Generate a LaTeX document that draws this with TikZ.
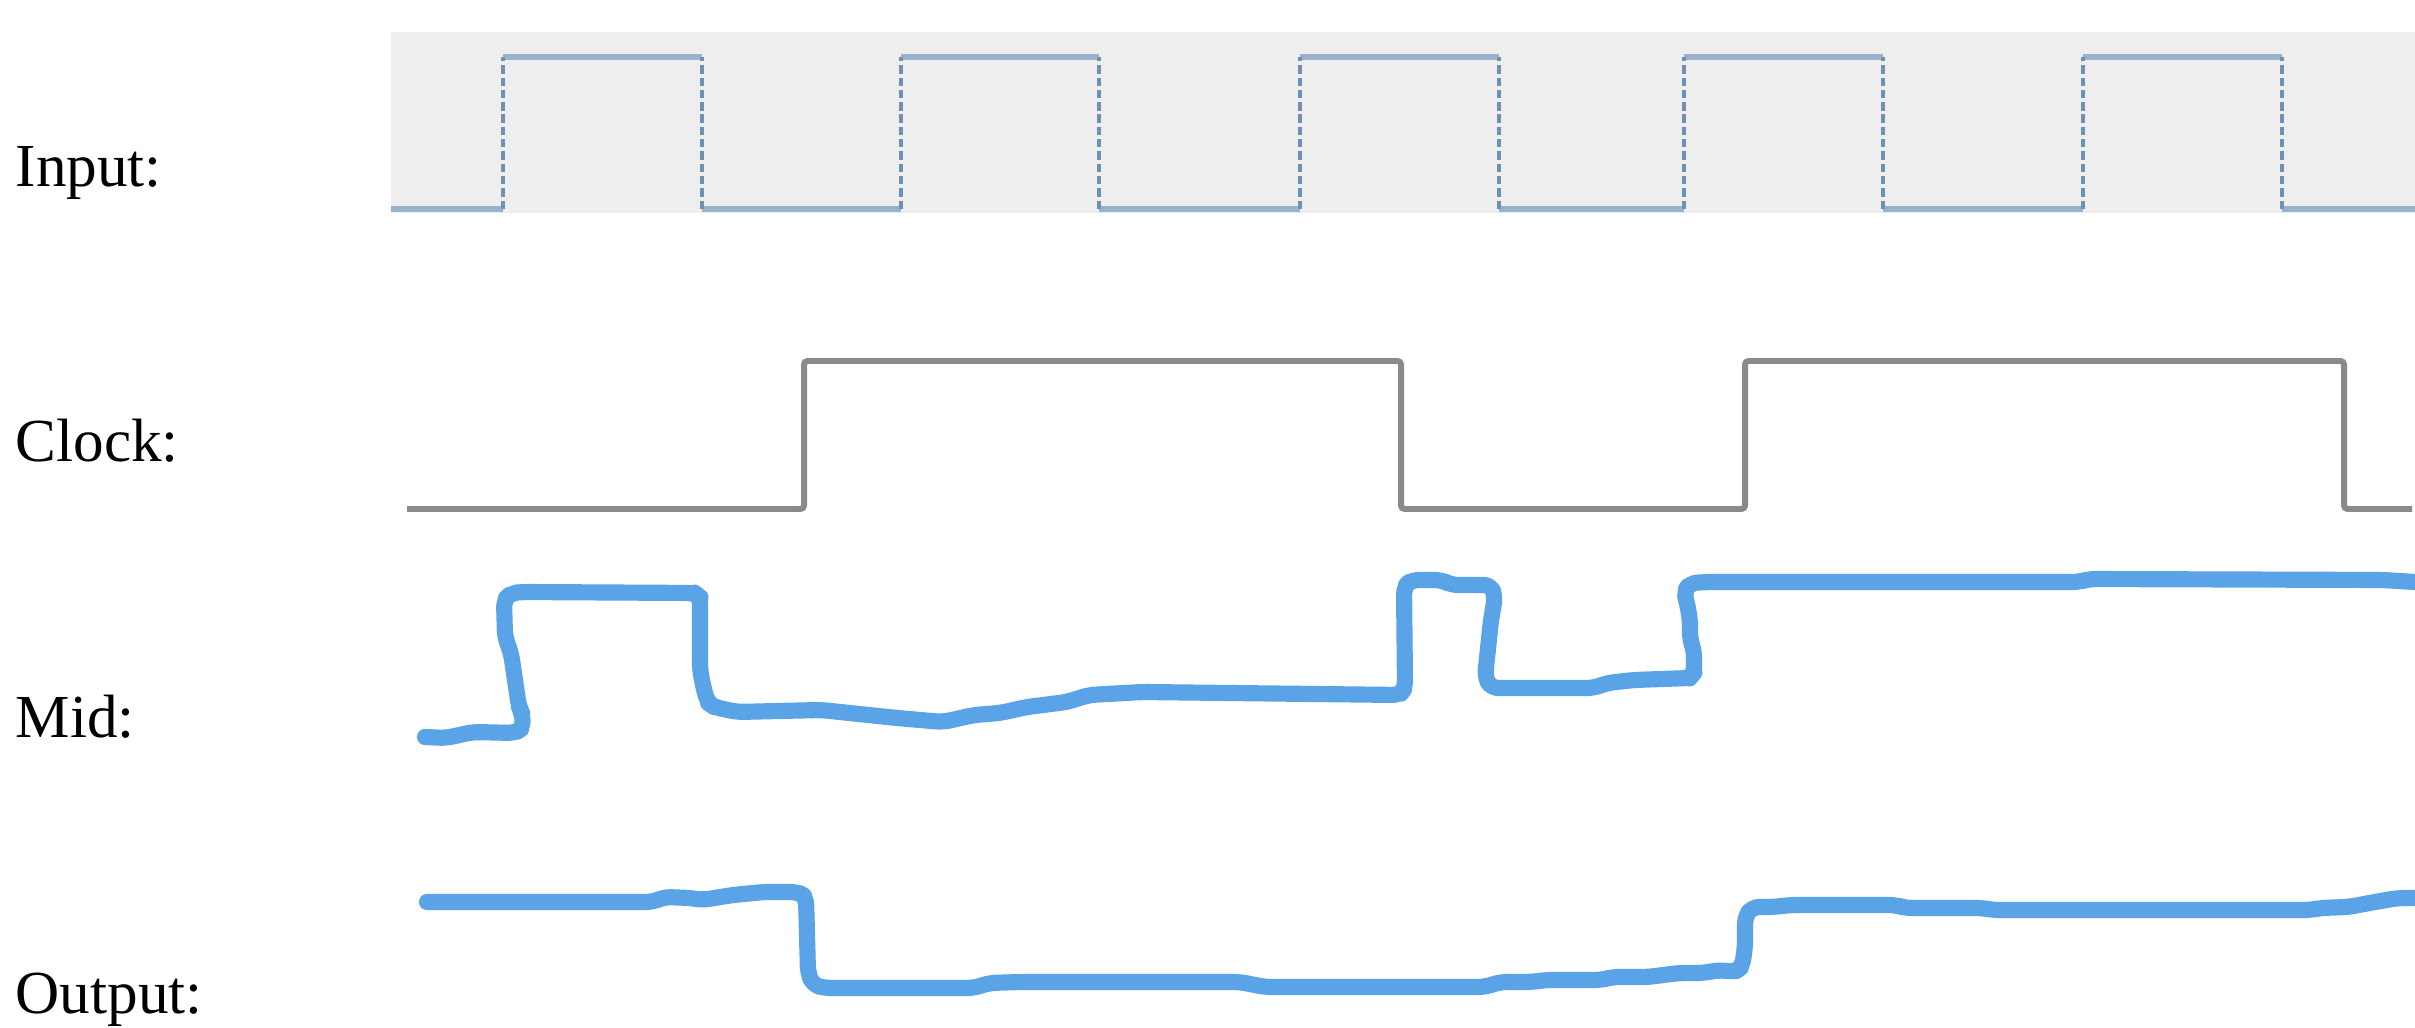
\documentclass[tikz,border=0pt]{standalone}
\usepackage{fontspec}
\setmainfont{Liberation Serif}
\definecolor{bgray}{HTML}{EEEEEE}
\definecolor{inh}{HTML}{9BB2CC}
\definecolor{inv}{HTML}{6E91B6}
\definecolor{clk}{HTML}{8A8A8A}
\definecolor{hand}{HTML}{5AA3E6}
\tikzset{
  lbl/.style={anchor=base west,inner sep=0pt,font=\fontsize{17.4pt}{20pt}\selectfont},
  inwave/.style={draw=inh,line width=1.9pt,rounded corners=1.5pt},
  inedge/.style={draw=inv,line width=1.2pt,dash pattern=on 2.4pt off 1.1pt},
  clkwave/.style={draw=clk,line width=1.7pt,rounded corners=1pt},
  handwave/.style={draw=hand,line width=4.6pt,line cap=round,line join=round,rounded corners=2pt}
}
\begin{document}
\begin{tikzpicture}[x=0.1mm,y=-0.1mm]
\useasboundingbox (0,0) rectangle (2415,1028);
% background of input row
\fill[bgray] (391,32) rectangle (2415,213);
% labels
\node[lbl] (lin)  at (15,187)  {Input:};
\node[lbl] (lclk) at (15,462)  {Clock:};
\node[lbl] (lmid) at (15,738)  {Mid:};
\node[lbl] (lout) at (15,1013) {Output:};
% input wave: horizontal parts
\path[inwave] (391,209) -- (503,209);
\foreach \a/\b in {503/702,901/1099,1300/1499,1684/1883,2083/2282}{
  \path[inwave] (\a,57) -- (\b,57);
}
\foreach \a/\b in {702/901,1099/1300,1499/1684,1883/2083}{
  \path[inwave] (\a,209) -- (\b,209);
}
\path[inwave] (2282,209) -- (2415,209);
% input wave: edges
\foreach \x in {503,702,901,1099,1300,1499,1684,1883,2083,2282}{
  \path[inedge] (\x,209) -- (\x,57);
}
% clock
\path[clkwave] (407,509) -- (804,509) -- (804,361) -- (1401,361) -- (1401,509)
  -- (1745,509) -- (1745,361) -- (2344,361) -- (2344,509) -- (2412,509);
% mid (hand drawn)
\path[handwave] (425,737) -- (446,738) -- (473,732) -- (515,733) -- (523,728)
  -- (522,713) -- (519,707) -- (515,680) -- (511,653) -- (505,637) -- (504,600)
  -- (511,593) -- (523,592) -- (695,593) -- (700,597) -- (700,670) -- (704,690)
  -- (708,703) -- (714,707) -- (737,712) -- (821,710) -- (897,718) -- (943,722)
  -- (974,715) -- (1000,713) -- (1027,707) -- (1067,702) -- (1089,695)
  -- (1143,692) -- (1400,695) -- (1405,688) -- (1404,587) -- (1411,580)
  -- (1442,580) -- (1451,585) -- (1491,585) -- (1495,597) -- (1491,620)
  -- (1485,677) -- (1491,688) -- (1594,688) -- (1607,683) -- (1634,680)
  -- (1690,678) -- (1694,673) -- (1694,650) -- (1690,640) -- (1690,620)
  -- (1687,603) -- (1684,592) -- (1690,583) -- (1709,582) -- (2079,582)
  -- (2089,579) -- (2382,580) -- (2415,582);
% output (hand drawn)
\path[handwave] (427,902) -- (653,902) -- (664,897) -- (691,898) -- (702,900)
  -- (733,895) -- (764,892) -- (798,892) -- (806,897) -- (808,973) -- (813,985)
  -- (825,988) -- (974,988) -- (989,983) -- (1020,982) -- (1240,982)
  -- (1265,987) -- (1485,987) -- (1500,982) -- (1531,982) -- (1546,980)
  -- (1602,980) -- (1612,977) -- (1648,977) -- (1679,973) -- (1704,973)
  -- (1719,970) -- (1735,972) -- (1742,967) -- (1745,947) -- (1745,917)
  -- (1752,907) -- (1773,907) -- (1791,905) -- (1896,905) -- (1905,908)
  -- (1983,908) -- (1992,910) -- (2311,910) -- (2320,908) -- (2348,907)
  -- (2375,902) -- (2398,898) -- (2415,898);
\end{tikzpicture}
\end{document}
